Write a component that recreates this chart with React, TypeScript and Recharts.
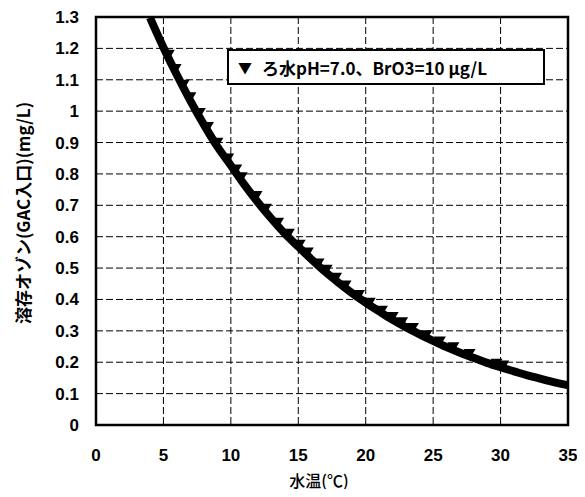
import React from "react";
import {
  ComposedChart,
  Line,
  Scatter,
  XAxis,
  YAxis,
  CartesianGrid,
  ReferenceArea,
} from "recharts";

// fitted curve
const curveTemp = [4, 5, 6, 7, 8, 9, 10, 11, 12, 13, 14, 15, 16, 17, 18, 19, 20, 21, 22, 23, 24, 25, 26, 27, 28, 29, 30, 31, 32, 33, 34, 35];
const curveOzone = [1.298, 1.203, 1.115, 1.033, 0.957, 0.887, 0.827, 0.766, 0.71, 0.658, 0.61, 0.568, 0.527, 0.488, 0.453, 0.42, 0.39, 0.362, 0.335, 0.311, 0.289, 0.268, 0.248, 0.23, 0.214, 0.198, 0.184, 0.171, 0.158, 0.147, 0.136, 0.127];

// measured points (▼)
const pointTemp = [5.4, 5.9, 6.5, 7.0, 7.7, 8.3, 9.0, 9.8, 10.4, 10.8, 11.9, 12.6, 13.5, 14.3, 15.1, 15.7, 16.5, 17.1, 17.8, 18.5, 19.5, 20.3, 21.2, 22.0, 22.7, 23.5, 24.5, 25.5, 26.5, 27.7, 29.7, 30.2];
const pointOzone = [1.18, 1.135, 1.085, 1.045, 0.995, 0.95, 0.9, 0.85, 0.815, 0.79, 0.73, 0.69, 0.645, 0.61, 0.575, 0.55, 0.515, 0.495, 0.47, 0.445, 0.415, 0.39, 0.365, 0.345, 0.328, 0.31, 0.287, 0.267, 0.248, 0.227, 0.196, 0.19];

const xTicks = [0, 5, 10, 15, 20, 25, 30, 35];
const yTicks = [0, 0.1, 0.2, 0.3, 0.4, 0.5, 0.6, 0.7, 0.8, 0.9, 1, 1.1, 1.2, 1.3];

const legendLabel = "ろ水pH=7.0、BrO3=10 μg/L";

const curveData = curveTemp.map((t, i) => ({ t, v: curveOzone[i] }));
const pointData = pointTemp.map((t, i) => ({ t, v: pointOzone[i] }));

const numFont = "'Liberation Sans', Arial, sans-serif";
const jpFont = "'Noto Sans CJK JP', sans-serif";

const TriangleDown = (props: any) => {
  const { cx, cy } = props;
  if (cx == null || cy == null) return null;
  const s = 6;
  return <path d={`M${cx - s},${cy - s * 0.8} L${cx + s},${cy - s * 0.8} L${cx},${cy + s * 0.9} Z`} fill="#000" />;
};

export default function App() {
  return (
    <div style={{ position: "relative", width: 585, height: 497, margin: -8, background: "#fff" }}>
      <ComposedChart
        width={585}
        height={497}
        margin={{ top: 17, right: 17, bottom: 22, left: 20 }}
      >
        <CartesianGrid stroke="#000" strokeDasharray="7 3" strokeWidth={1} />
        <XAxis
          type="number"
          dataKey="t"
          domain={[0, 35]}
          ticks={xTicks}
          axisLine={false}
          tickLine={false}
          tickSize={0}
          tickMargin={24}
          height={50}
          tick={{ fill: "#000", fontSize: 17, fontWeight: 700, fontFamily: numFont }}
        />
        <YAxis
          type="number"
          dataKey="v"
          domain={[0, 1.3]}
          ticks={yTicks}
          allowDataOverflow
          axisLine={false}
          tickLine={false}
          tickSize={0}
          tickMargin={17}
          width={76}
          tick={{ fill: "#000", fontSize: 17, fontWeight: 700, fontFamily: numFont }}
        />
        <ReferenceArea x1={0} x2={35} y1={0} y2={1.3} fill="none" stroke="#000" strokeWidth={2.5} ifOverflow="visible" />
        <Line
          data={curveData}
          dataKey="v"
          type="monotone"
          stroke="#000"
          strokeWidth={8}
          dot={false}
          activeDot={false}
          isAnimationActive={false}
        />
        <Scatter data={pointData} dataKey="v" shape={<TriangleDown />} isAnimationActive={false} />
        <text
          x={22}
          y={213}
          transform="rotate(-90 22 213)"
          textAnchor="middle"
          dominantBaseline="central"
          style={{ fontSize: 17, fontFamily: jpFont, fontWeight: 700, fill: "#000" }}
        >
          溶存オゾン(GAC入口)(mg/L)
        </text>
        <text
          x={319}
          y={487}
          textAnchor="middle"
          style={{ fontSize: 16, fontFamily: jpFont, fontWeight: 500, fill: "#000" }}
        >
          水温(℃)
        </text>
      </ComposedChart>
      <div
        style={{
          position: "absolute",
          left: 227,
          top: 49,
          width: 318,
          height: 36,
          border: "2px solid #000",
          background: "#fff",
          display: "flex",
          alignItems: "center",
          paddingLeft: 9,
          boxSizing: "border-box",
          fontFamily: jpFont,
          fontSize: 17,
          fontWeight: 700,
          whiteSpace: "nowrap",
        }}
      >
        <span style={{ fontSize: 14, marginRight: 10 }}>▼</span>
        {legendLabel}
      </div>
    </div>
  );
}
